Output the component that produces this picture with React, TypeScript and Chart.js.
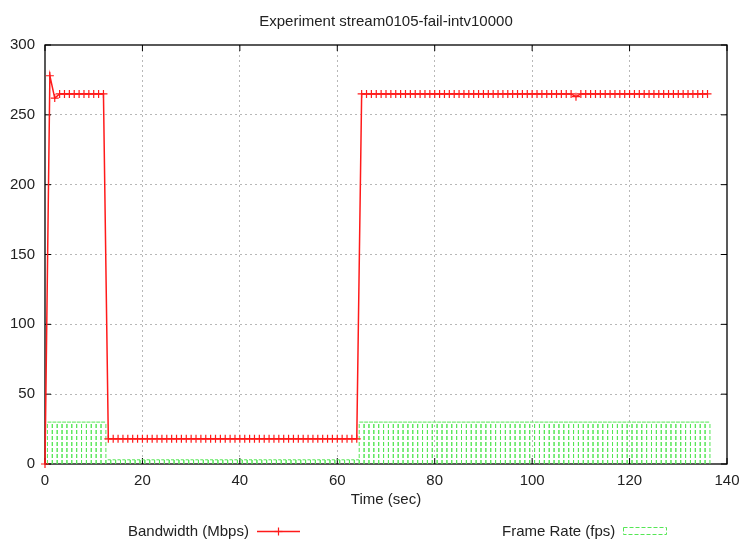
import React, { useEffect, useRef } from "react";
import { Chart, registerables } from "chart.js";

Chart.register(...registerables);

const TITLE = "Experiment stream0105-fail-intv10000";
const X_LABEL = "Time (sec)";
const BW_LABEL = "Bandwidth (Mbps)";
const FPS_LABEL = "Frame Rate (fps)";

const TIME_SEC = [
  0, 1, 2, 3, 4, 5, 6, 7, 8, 9,
  10, 11, 12, 13, 14, 15, 16, 17, 18, 19,
  20, 21, 22, 23, 24, 25, 26, 27, 28, 29,
  30, 31, 32, 33, 34, 35, 36, 37, 38, 39,
  40, 41, 42, 43, 44, 45, 46, 47, 48, 49,
  50, 51, 52, 53, 54, 55, 56, 57, 58, 59,
  60, 61, 62, 63, 64, 65, 66, 67, 68, 69,
  70, 71, 72, 73, 74, 75, 76, 77, 78, 79,
  80, 81, 82, 83, 84, 85, 86, 87, 88, 89,
  90, 91, 92, 93, 94, 95, 96, 97, 98, 99,
  100, 101, 102, 103, 104, 105, 106, 107, 108, 109,
  110, 111, 112, 113, 114, 115, 116, 117, 118, 119,
  120, 121, 122, 123, 124, 125, 126, 127, 128, 129,
  130, 131, 132, 133, 134, 135, 136,
];

const BANDWIDTH_MBPS = [
  0, 278, 262, 265, 265, 265, 265, 265, 265, 265,
  265, 265, 265, 18, 18, 18, 18, 18, 18, 18,
  18, 18, 18, 18, 18, 18, 18, 18, 18, 18,
  18, 18, 18, 18, 18, 18, 18, 18, 18, 18,
  18, 18, 18, 18, 18, 18, 18, 18, 18, 18,
  18, 18, 18, 18, 18, 18, 18, 18, 18, 18,
  18, 18, 18, 18, 18, 265, 265, 265, 265, 265,
  265, 265, 265, 265, 265, 265, 265, 265, 265, 265,
  265, 265, 265, 265, 265, 265, 265, 265, 265, 265,
  265, 265, 265, 265, 265, 265, 265, 265, 265, 265,
  265, 265, 265, 265, 265, 265, 265, 265, 265, 263,
  265, 265, 265, 265, 265, 265, 265, 265, 265, 265,
  265, 265, 265, 265, 265, 265, 265, 265, 265, 265,
  265, 265, 265, 265, 265, 265, 265,
];

const FRAME_RATE_FPS = [
  0, 30, 30, 30, 30, 30, 30, 30, 30, 30,
  30, 30, 30, 3, 3, 3, 3, 3, 3, 3,
  3, 3, 3, 3, 3, 3, 3, 3, 3, 3,
  3, 3, 3, 3, 3, 3, 3, 3, 3, 3,
  3, 3, 3, 3, 3, 3, 3, 3, 3, 3,
  3, 3, 3, 3, 3, 3, 3, 3, 3, 3,
  3, 3, 3, 3, 3, 30, 30, 30, 30, 30,
  30, 30, 30, 30, 30, 30, 30, 30, 30, 30,
  30, 30, 30, 30, 30, 30, 30, 30, 30, 30,
  30, 30, 30, 30, 30, 30, 30, 30, 30, 30,
  30, 30, 30, 30, 30, 30, 30, 30, 30, 30,
  30, 30, 30, 30, 30, 30, 30, 30, 30, 30,
  30, 30, 30, 30, 30, 30, 30, 30, 30, 30,
  30, 30, 30, 30, 30, 30, 30,
];

const X_TICKS = [0, 20, 40, 60, 80, 100, 120, 140];
const Y_TICKS = [0, 50, 100, 150, 200, 250, 300];

const FONT_FAMILY = "'Liberation Sans', Arial, Helvetica, sans-serif";
const TEXT_COLOR = "#222";
const RED = "#ff1a1a";
const GREEN = "#55e655";
const BOX_WIDTH = 1;

// Build gnuplot-like "boxes" outlines from the frame rate values.
function buildBoxes(times: number[], values: number[]) {
  const pts: { x: number; y: number | null }[] = [];
  for (let i = 0; i < times.length; i++) {
    const v = values[i];
    if (!v) continue;
    const l = times[i] - BOX_WIDTH / 2;
    const r = times[i] + BOX_WIDTH / 2;
    pts.push({ x: l, y: 0 }, { x: l, y: v }, { x: r, y: v }, { x: r, y: null });
    pts.push({ x: r, y: 0 }, { x: r, y: v }, { x: r, y: null });
  }
  return pts;
}

const framePlugin = {
  id: "gnuFrame",
  beforeDatasetsDraw(chart: any) {
    const { ctx, chartArea: a, scales } = chart;
    ctx.save();
    ctx.strokeStyle = "#000";
    ctx.lineWidth = 1;
    ctx.beginPath();
    for (const v of X_TICKS) {
      const x = scales.x.getPixelForValue(v);
      ctx.moveTo(x, a.bottom);
      ctx.lineTo(x, a.bottom - 6);
      ctx.moveTo(x, a.top);
      ctx.lineTo(x, a.top + 6);
    }
    for (const v of Y_TICKS) {
      const y = scales.y.getPixelForValue(v);
      ctx.moveTo(a.left, y);
      ctx.lineTo(a.left + 6, y);
      ctx.moveTo(a.right, y);
      ctx.lineTo(a.right - 6, y);
    }
    ctx.stroke();
    ctx.lineWidth = 1.3;
    ctx.strokeRect(a.left, a.top, a.right - a.left, a.bottom - a.top);
    ctx.restore();
  },
};

export default function App() {
  const ref = useRef<HTMLCanvasElement | null>(null);

  useEffect(() => {
    if (!ref.current) return;
    const gridColor = (c: any) =>
      c.tick && (c.tick.value === c.scale.min || c.tick.value === c.scale.max)
        ? "rgba(0,0,0,0)"
        : "#b8b8b8";
    const chart = new Chart(ref.current, {
      type: "line",
      data: {
        datasets: [
          {
            label: BW_LABEL,
            data: TIME_SEC.map((t, i) => ({ x: t, y: BANDWIDTH_MBPS[i] })),
            borderColor: RED,
            backgroundColor: RED,
            borderWidth: 1.5,
            pointStyle: "cross",
            pointRadius: 4,
            pointBorderWidth: 1.2,
            pointBorderColor: RED,
            tension: 0,
            fill: false,
            clip: 6,
          },
          {
            label: FPS_LABEL,
            data: buildBoxes(TIME_SEC, FRAME_RATE_FPS),
            borderColor: GREEN,
            borderWidth: 1,
            borderDash: [4, 2],
            pointRadius: 0,
            spanGaps: false,
            fill: false,
            tension: 0,
          },
        ],
      },
      options: {
        responsive: false,
        animation: false,
        events: [],
        layout: { padding: { left: 10, right: 16, top: 0, bottom: 26 } },
        plugins: {
          legend: { display: false },
          tooltip: { enabled: false },
          title: {
            display: true,
            text: TITLE,
            fullSize: false,
            color: TEXT_COLOR,
            font: { family: FONT_FAMILY, size: 15, weight: "normal" },
            padding: { top: 13, bottom: 14 },
          },
        },
        scales: {
          x: {
            type: "linear",
            min: 0,
            max: 140,
            afterBuildTicks: (s: any) => {
              s.ticks = X_TICKS.map((v) => ({ value: v }));
            },
            afterFit: (s: any) => {
              s.height = 49;
              s.paddingLeft = 0;
              s.paddingRight = 0;
            },
            ticks: {
              color: TEXT_COLOR,
              font: { family: FONT_FAMILY, size: 15 },
              padding: 8,
              maxRotation: 0,
              autoSkip: false,
            },
            grid: { color: gridColor, drawTicks: false, lineWidth: 1 },
            border: { display: false, dash: [2, 3] },
            title: {
              display: true,
              text: X_LABEL,
              color: TEXT_COLOR,
              font: { family: FONT_FAMILY, size: 15 },
              padding: { top: 0, bottom: 4 },
            },
          },
          y: {
            type: "linear",
            min: 0,
            max: 300,
            afterBuildTicks: (s: any) => {
              s.ticks = Y_TICKS.map((v) => ({ value: v }));
            },
            afterFit: (s: any) => {
              s.width = 35;
              s.paddingTop = 0;
              s.paddingBottom = 0;
            },
            ticks: {
              color: TEXT_COLOR,
              font: { family: FONT_FAMILY, size: 15 },
              padding: 10,
              autoSkip: false,
            },
            grid: { color: gridColor, drawTicks: false, lineWidth: 1 },
            border: { display: false, dash: [2, 3] },
          },
        },
      },
      plugins: [framePlugin],
    } as any);
    return () => chart.destroy();
  }, []);

  const legendText: React.CSSProperties = {
    position: "absolute",
    top: 522,
    height: 18,
    lineHeight: "18px",
    fontFamily: FONT_FAMILY,
    fontSize: 15,
    color: TEXT_COLOR,
    whiteSpace: "nowrap",
  };

  return (
    <div style={{ position: "absolute", left: 0, top: 0, width: 743, height: 539, background: "#fff" }}>
      <canvas ref={ref} width={743} height={539} style={{ display: "block" }} />
      <div style={{ ...legendText, left: 128 }}>{BW_LABEL}</div>
      <svg style={{ position: "absolute", left: 257, top: 527 }} width={43} height={9}>
        <line x1={0} y1={4.5} x2={43} y2={4.5} stroke={RED} strokeWidth={1.4} />
        <line x1={21.5} y1={0.5} x2={21.5} y2={8.5} stroke={RED} strokeWidth={1.2} />
        <line x1={17.5} y1={4.5} x2={25.5} y2={4.5} stroke={RED} strokeWidth={1.2} />
      </svg>
      <div style={{ ...legendText, left: 502 }}>{FPS_LABEL}</div>
      <svg style={{ position: "absolute", left: 622, top: 526 }} width={46} height={10}>
        <rect x={1.5} y={1.5} width={43} height={7} fill="none" stroke={GREEN} strokeWidth={1} strokeDasharray="4 2" />
      </svg>
    </div>
  );
}
